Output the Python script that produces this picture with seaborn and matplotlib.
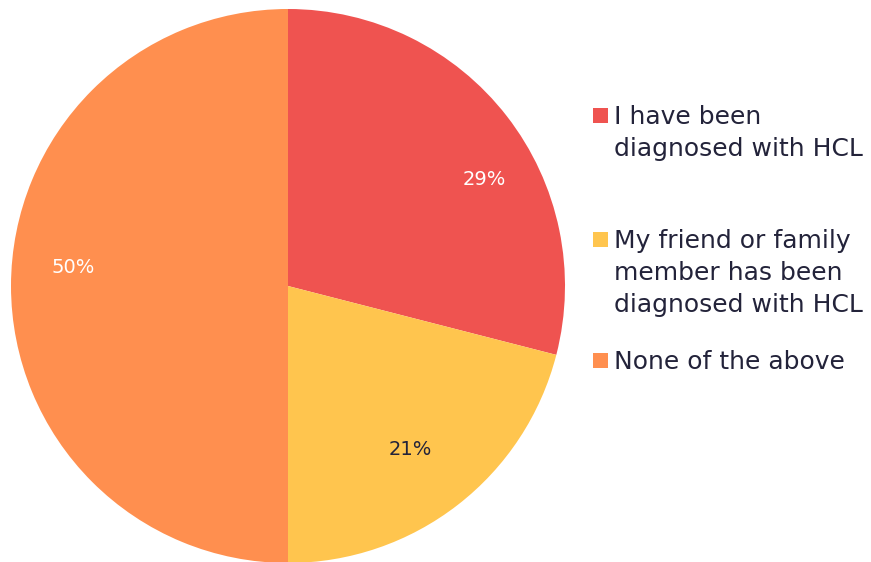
import matplotlib
matplotlib.use("Agg")
import matplotlib.pyplot as plt
import matplotlib.patches as mpatches
import seaborn as sns

# data
labels = ["I have been\ndiagnosed with HCL",
          "My friend or family\nmember has been\ndiagnosed with HCL",
          "None of the above"]
shares = [29, 21, 50]
colors = ["#EF5350", "#FFC54E", "#FF8F4F"]
pct_colors = ["white", "#23233A", "white"]
# where the percent labels sit, in pie units
pct_pos = [(0.708, 0.383), (0.44, -0.592), (-0.776, 0.065)]

sns.set_theme(style="white")
plt.rcParams['font.family'] = ['DejaVu Sans']

fig = plt.figure(figsize=(8.71, 5.62), dpi=100)
ax = fig.add_axes([11 / 871, (562 - 563) / 562, 554 / 871, 554 / 562])

wedges, texts, autotexts = ax.pie(
    shares, colors=sns.color_palette(colors), startangle=90, counterclock=False,
    autopct=lambda p: f"{p:.0f}%", pctdistance=0.78,
    wedgeprops=dict(linewidth=0), textprops=dict(fontsize=14))
for t, c, pos in zip(autotexts, pct_colors, pct_pos):
    t.set_color(c)
    t.set_position(pos)
ax.set_xlim(-1, 1)
ax.set_ylim(-1, 1)
ax.set_aspect("equal")

# legend drawn by hand so that each square lines up with the first text line
tops = [108, 232, 353]
for lab, col, top in zip(labels, colors, tops):
    fig.patches.append(mpatches.Rectangle(
        (593 / 871, 1 - (top + 15) / 562), 15 / 871, 15 / 562,
        transform=fig.transFigure, color=col, linewidth=0))
    fig.text(614 / 871, 1 - (top - 3) / 562, lab, ha="left", va="top",
             fontsize=18, color="#23233A", linespacing=1.42)

fig.savefig("out.png", dpi=100)
